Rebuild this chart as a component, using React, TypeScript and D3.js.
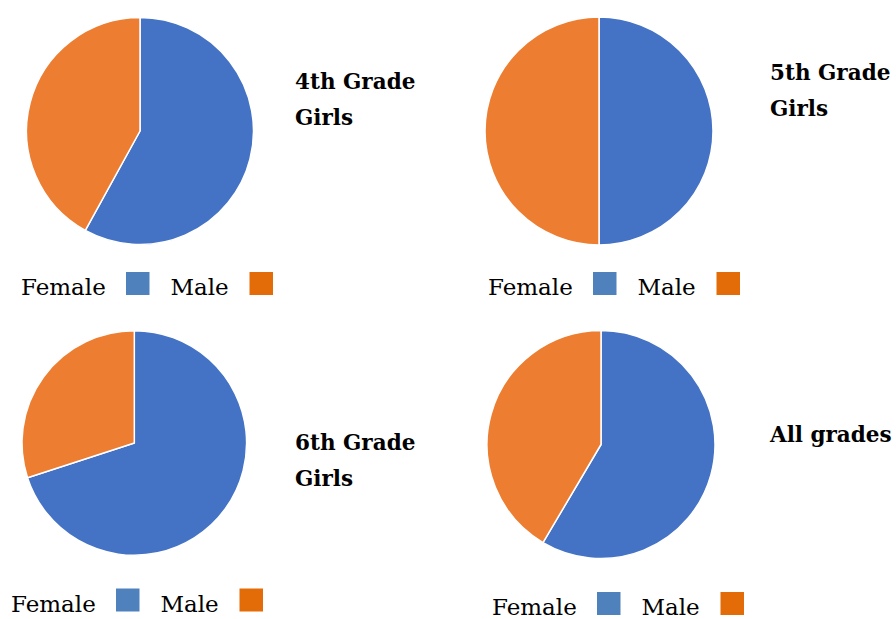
import React from "react";
import * as d3 from "d3";

// Share of girls and boys per grade (percent)
const categories = ["Female", "Male"];
const panelTitles = [["4th Grade", "Girls"], ["5th Grade", "Girls"], ["6th Grade", "Girls"], ["All grades"]];
const femaleShare = [58, 50, 70, 58.5];
const maleShare = [42, 50, 30, 41.5];

const sliceColors = ["#4472C4", "#ED7D31"];
const legendColors = ["#4F81BD", "#E36C09"];

// Panel geometry: pie centre, title anchor, legend anchor
const panels = [
  { cx: 140, cy: 131, r: 113.5, tx: 295, ty: 89, lx: 21, ly: 295 },
  { cx: 599, cy: 131, r: 114, tx: 770, ty: 80, lx: 488, ly: 295 },
  { cx: 134.3, cy: 443, r: 112.3, tx: 295, ty: 450, lx: 11, ly: 611.5 },
  { cx: 601, cy: 444.5, r: 114, tx: 770, ty: 442, lx: 492, ly: 615 },
];

const FONT = "DejaVu Serif";

export default function App() {
  const pie = d3.pie<number>().sort(null).value((d) => d);
  const arc = d3.arc<d3.PieArcDatum<number>>().innerRadius(0);

  return (
    <svg
      width={896}
      height={619}
      style={{ position: "absolute", left: 0, top: 0, background: "#fff" }}
    >
      {panels.map((p, i) => {
        const arcs = pie([femaleShare[i], maleShare[i]]);
        return (
          <g key={i}>
            <g transform={`translate(${p.cx},${p.cy})`}>
              {arcs.map((a, j) => (
                <path
                  key={j}
                  d={arc.outerRadius(p.r)(a) || ""}
                  fill={sliceColors[j]}
                  stroke="#fff"
                  strokeWidth={1.5}
                  strokeLinejoin="round"
                />
              ))}
            </g>
            <text
              x={p.tx}
              y={p.ty}
              style={{ fontFamily: FONT, fontWeight: "bold", fontSize: 21.5 }}
              fill="#000"
            >
              {panelTitles[i].map((line, k) => (
                <tspan key={k} x={p.tx} dy={k === 0 ? 0 : 36}>
                  {line}
                </tspan>
              ))}
            </text>
            <g style={{ fontFamily: FONT, fontSize: 23 }} fill="#000">
              <text x={p.lx} y={p.ly}>{categories[0]}</text>
              <rect x={p.lx + 105} y={p.ly - 23} width={23.5} height={23} fill={legendColors[0]} />
              <text x={p.lx + 149.5} y={p.ly}>{categories[1]}</text>
              <rect x={p.lx + 228.5} y={p.ly - 23} width={23.5} height={23} fill={legendColors[1]} />
            </g>
          </g>
        );
      })}
    </svg>
  );
}
